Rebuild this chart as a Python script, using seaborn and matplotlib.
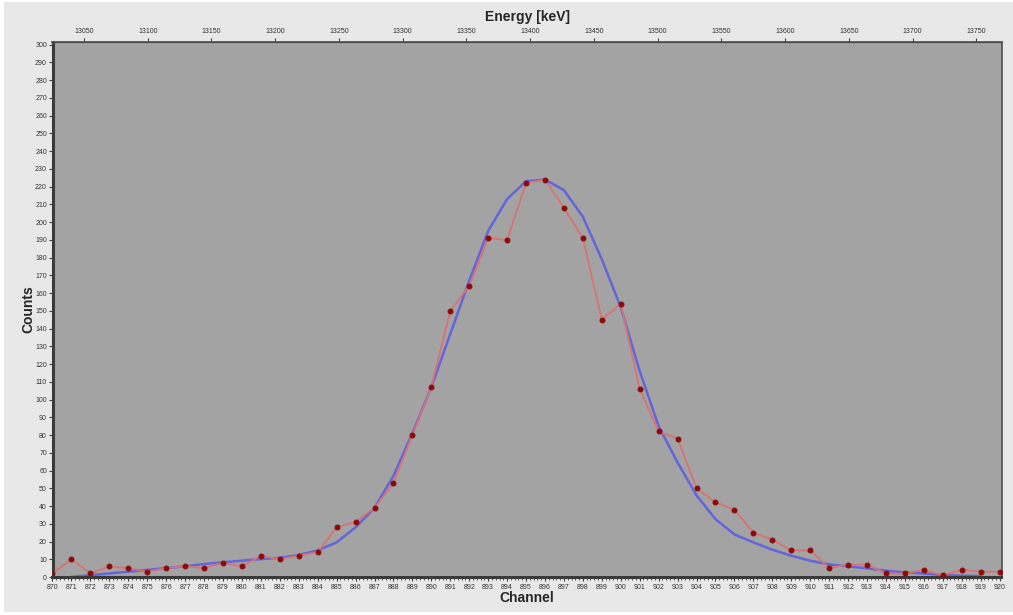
import numpy as np
import pandas as pd
import matplotlib

matplotlib.use("Agg")
import matplotlib.pyplot as plt
from matplotlib.patches import Rectangle
from matplotlib.ticker import MultipleLocator
import seaborn as sns

# ---------------------------------------------------------
# Data
# ---------------------------------------------------------

channels = list(range(870, 921))
counts = [
    2, 10, 2, 6, 5, 3, 5, 6, 5, 8,
    6, 12, 10, 12, 14, 28, 31, 39, 53, 80,
    107, 150, 164, 191, 190, 222, 224, 208, 191, 145,
    154, 106, 82, 78, 50, 42, 38, 25, 21, 15,
    15, 5, 7, 7, 2, 2, 4, 1, 4, 3,
    3,
]

fit_channels = list(range(871, 920))
fit_counts = [
    0, 1, 2, 3, 4, 5, 6, 7.3, 8.3,
    9.2, 10.1, 10.8, 12.4, 15, 19.5, 28, 39, 57, 81,
    107, 137, 167, 195, 213, 223, 224, 218, 203, 179,
    152, 116, 85, 64.5, 46, 32.6, 24, 19.5, 15.4, 12,
    9.2, 7.1, 6, 4.9, 3.5, 2.6, 2, 1.1, 0.7, 0.5,
]

energy_ticks = list(range(13050, 13751, 50))

# energy calibration (keV per channel)
E0 = 13025.3
GAIN = 14.86

data = pd.DataFrame({"Channel": channels, "Counts": counts})
fit = pd.DataFrame({"Channel": fit_channels, "Counts": fit_counts})

# ---------------------------------------------------------
# Plot
# ---------------------------------------------------------

sns.set_style("white")
plt.rcParams["font.family"] = ["Liberation Sans", "DejaVu Sans"]

fig = plt.figure(figsize=(10.13, 6.15), dpi=100, facecolor="white")
fig.patches.append(
    Rectangle((4 / 1013, 3 / 615), 1, 1 - 5 / 615,
              transform=fig.transFigure, facecolor="#e8e8e8",
              edgecolor="none", zorder=-10)
)

ax = fig.add_axes([52.5 / 1013, 38 / 615, 949 / 1013, 535 / 615])
ax.set_facecolor("#a3a3a3")

sns.lineplot(data=data, x="Channel", y="Counts", ax=ax,
             color="#d97272", linewidth=1.3, marker="o",
             markersize=3.5, markerfacecolor="#8b0a0a",
             markeredgecolor="#8b0a0a", zorder=3)
sns.lineplot(data=fit, x="Channel", y="Counts", ax=ax,
             color="#6464dc", linewidth=1.8, zorder=2)

ax.set_xlim(870, 920.1)
ax.set_ylim(0, 301.5)

ax.xaxis.set_major_locator(MultipleLocator(1))
ax.xaxis.set_minor_locator(MultipleLocator(0.2))
ax.yaxis.set_major_locator(MultipleLocator(10))

ax.tick_params(axis="x", which="major", labelsize=5, length=3,
               color="#404040", labelcolor="#333333", pad=2)
ax.tick_params(axis="x", which="minor", length=2, color="#404040")
ax.tick_params(axis="y", which="major", labelsize=5, length=3,
               color="#404040", labelcolor="#333333", pad=1)
ax.tick_params(left=True, bottom=True)
ax.tick_params(axis="x", which="minor", bottom=True)

for side in ["left", "bottom"]:
    ax.spines[side].set_linewidth(2.2)
    ax.spines[side].set_color("#3a3a3a")
for side in ["top", "right"]:
    ax.spines[side].set_linewidth(1.2)
    ax.spines[side].set_color("#505050")

ax.set_xlabel("Channel", fontsize=10, fontweight="bold", labelpad=0)
ax.set_ylabel("Counts", fontsize=10, fontweight="bold", labelpad=0)

# top energy axis
top = ax.secondary_xaxis(
    "top",
    functions=(lambda c: E0 + GAIN * (c - 870),
               lambda e: 870 + (e - E0) / GAIN),
)
top.set_xticks(energy_ticks)
top.tick_params(labelsize=5, length=3, color="#404040",
                labelcolor="#333333", pad=2)
top.set_xlabel("Energy [keV]", fontsize=10, fontweight="bold", labelpad=5)

fig.savefig("out.png", dpi=100, facecolor=fig.get_facecolor())
